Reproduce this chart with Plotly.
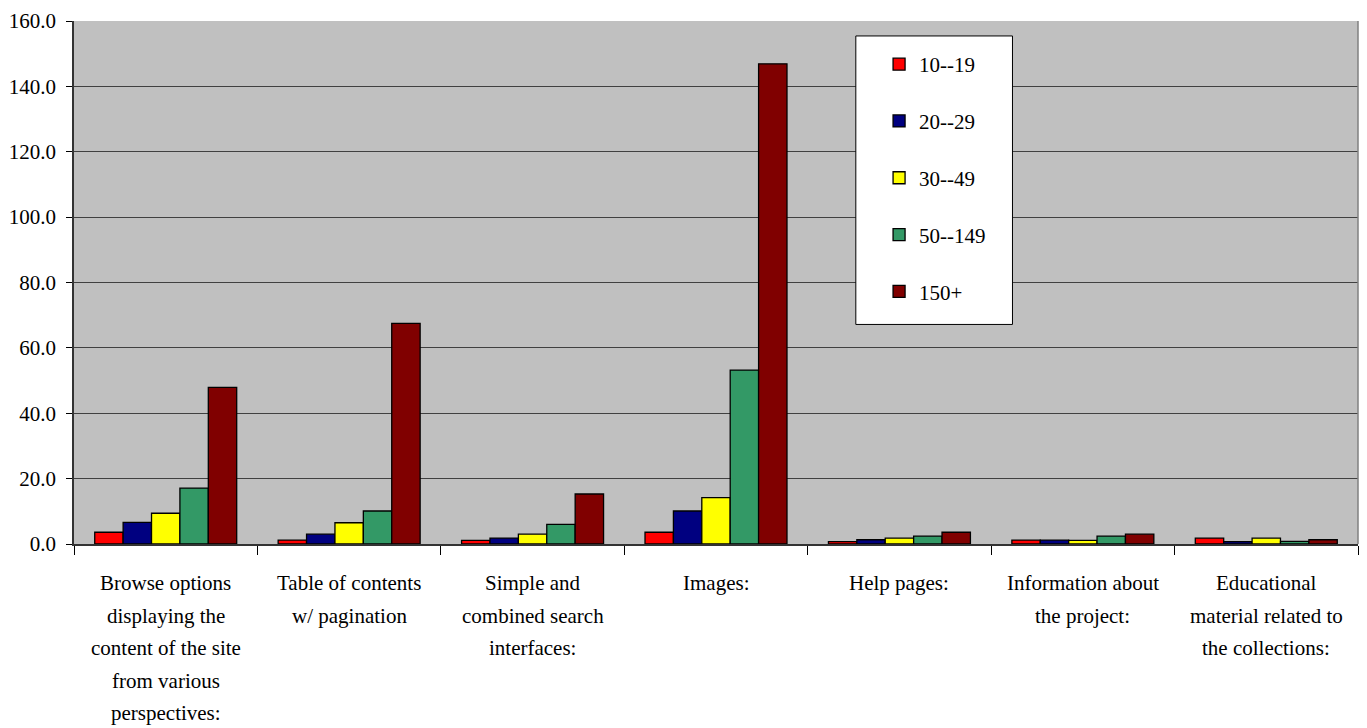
import plotly.graph_objects as go

# Categories (each label split into its display lines)
categories = [
    "Browse options",
    "Table of contents",
    "Simple and combined search",
    "Images",
    "Help pages",
    "Information about the project",
    "Educational material",
]
category_lines = [
    ["Browse options", "displaying the", "content of the site", "from various", "perspectives:"],
    ["Table of contents", "w/ pagination"],
    ["Simple and", "combined search", "interfaces:"],
    ["Images:"],
    ["Help pages:"],
    ["Information about", "the project:"],
    ["Educational", "material related to", "the collections:"],
]

series_names = ["10--19", "20--29", "30--49", "50--149", "150+"]
series_colors = ["#FF0000", "#000080", "#FFFF00", "#339966", "#800000"]

v_10_19 = [3.6, 1.2, 1.1, 3.6, 0.7, 1.2, 1.8]
v_20_29 = [6.6, 3.0, 1.8, 10.1, 1.3, 1.2, 0.7]
v_30_49 = [9.4, 6.5, 3.0, 14.2, 1.8, 1.1, 1.8]
v_50_149 = [17.1, 10.1, 6.0, 53.2, 2.4, 2.4, 0.8]
v_150_plus = [47.9, 67.5, 15.3, 146.9, 3.6, 3.0, 1.3]
series_values = [v_10_19, v_20_29, v_30_49, v_50_149, v_150_plus]

y_ticks = [0, 20, 40, 60, 80, 100, 120, 140, 160]

FONT = "Times New Roman, Tinos, DejaVu Serif, Noto Serif, serif"

fig = go.Figure()
for i, (name, color, vals) in enumerate(zip(series_names, series_colors, series_values)):
    fig.add_trace(go.Bar(
        x=categories, y=vals, name=name,
        legendgroup=f"g{i}",
        marker=dict(color=color, line=dict(color="#000000", width=1.3)),
    ))

# Multi-line category labels under the axis
annotations = []
for cat, lines in zip(categories, category_lines):
    for j, line in enumerate(lines):
        annotations.append(dict(
            x=cat, xref="x", y=0, yref="paper",
            text=line, showarrow=False,
            xanchor="center", yanchor="middle",
            yshift=-39 - 32.6 * j,
            font=dict(family=FONT, size=21, color="#000000"),
        ))

fig.update_layout(
    width=1367, height=728,
    margin=dict(l=72, r=9, t=20, b=184),
    paper_bgcolor="#FFFFFF",
    plot_bgcolor="#C0C0C0",
    barmode="group",
    bargap=0.226,
    bargroupgap=0,
    font=dict(family=FONT, size=21, color="#000000"),
    showlegend=True,
    legend=dict(
        x=0.627, y=0.956, xanchor="left", yanchor="top",
        bgcolor="rgba(0,0,0,0)", borderwidth=0,
        tracegroupgap=26.5,
        font=dict(family=FONT, size=21, color="#000000"),
    ),
    annotations=annotations,
    shapes=[
        # legend frame
        dict(type="rect", xref="paper", yref="paper",
             x0=0.6089, x1=0.7309, y0=0.4198, y1=0.9714,
             fillcolor="#FFFFFF", line=dict(color="#000000", width=1),
             layer="above"),
        # right plot border
        dict(type="line", xref="paper", yref="paper",
             x0=1, x1=1, y0=0, y1=1,
             line=dict(color="#808080", width=1.5)),
    ],
)

fig.update_xaxes(
    showticklabels=False,
    tickson="boundaries",
    ticks="outside", ticklen=9, tickwidth=1, tickcolor="#000000",
    showline=True, linecolor="#333333", linewidth=1.5,
    showgrid=False,
    range=[-0.5, len(categories) - 0.5],
)
fig.update_yaxes(
    range=[0, 160],
    tickvals=y_ticks,
    tickformat=".1f",
    ticks="outside", ticklen=6, tickwidth=1, tickcolor="#000000",
    ticklabelstandoff=6,
    showline=True, linecolor="#333333", linewidth=1.5,
    showgrid=True, gridcolor="#404040", gridwidth=1,
    zeroline=False,
    tickfont=dict(family=FONT, size=21, color="#000000"),
)

fig.write_html("out.html")
